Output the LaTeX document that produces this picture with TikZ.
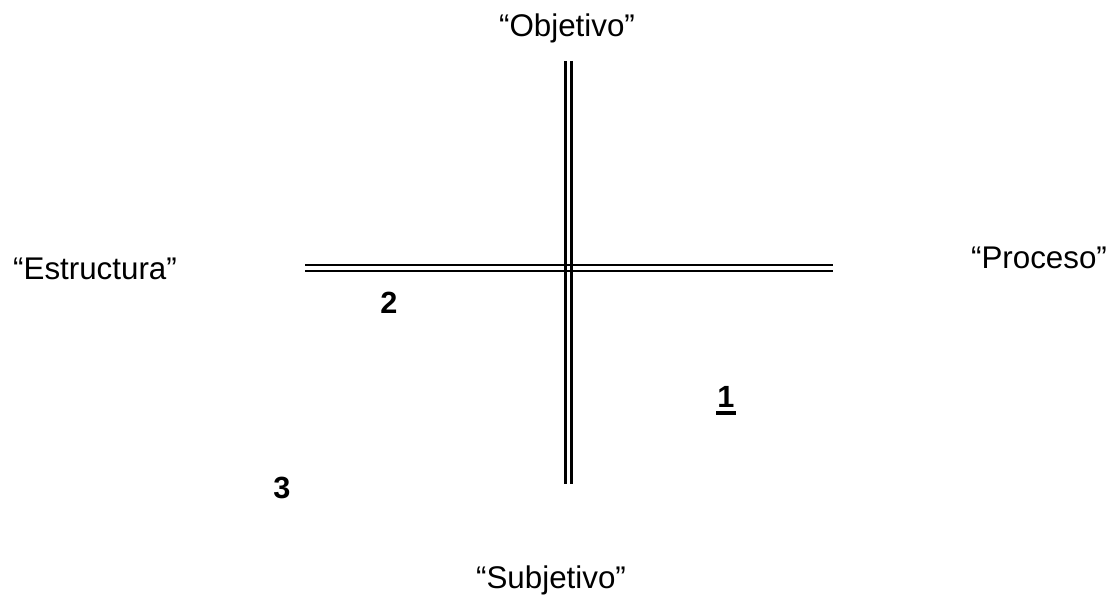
\documentclass[tikz,border=0pt]{standalone}
\usepackage{fontspec}
\setmainfont{Liberation Sans}
\tikzset{axisline/.style={line width=1.8pt},
  polo/.style={anchor=base,inner sep=0pt,font=\fontsize{23.5}{28}\selectfont},
  cuadrante/.style={anchor=base,inner sep=0pt,font=\fontsize{23}{28}\selectfont\bfseries}}

\begin{document}
\begin{tikzpicture}[x=0.75pt,y=-0.75pt]
\useasboundingbox (0,0) rectangle (1113,599);
\coordinate (arriba) at (568.5,61);\coordinate (abajo) at (568.5,484);
\coordinate (izq) at (305,268);\coordinate (der) at (833,268);
\foreach \d in {-3,3}{
  \draw[axisline] ([yshift=\d*0.75pt]izq)--([yshift=\d*0.75pt]der);
  \draw[axisline] ([xshift=\d*0.75pt]arriba)--([xshift=\d*0.75pt]abajo);}
\node[polo] (obj) at (567,37) {“Objetivo”};
\node[polo] (subj) at (551,588) {“Subjetivo”};
\node[polo] (estr) at (95,279) {“Estructura”};
\node[polo] (proc) at (1039,268) {“Proceso”};
\node[cuadrante] (uno) at (726,407) {1};
\draw[line width=2.4pt] ([shift={(-1,6)}]uno.base west)--([shift={(1,6)}]uno.base east);
\node[cuadrante] (dos) at (389,313) {2};
\node[cuadrante] (tres) at (282,498) {3};
\end{tikzpicture}
\end{document}
